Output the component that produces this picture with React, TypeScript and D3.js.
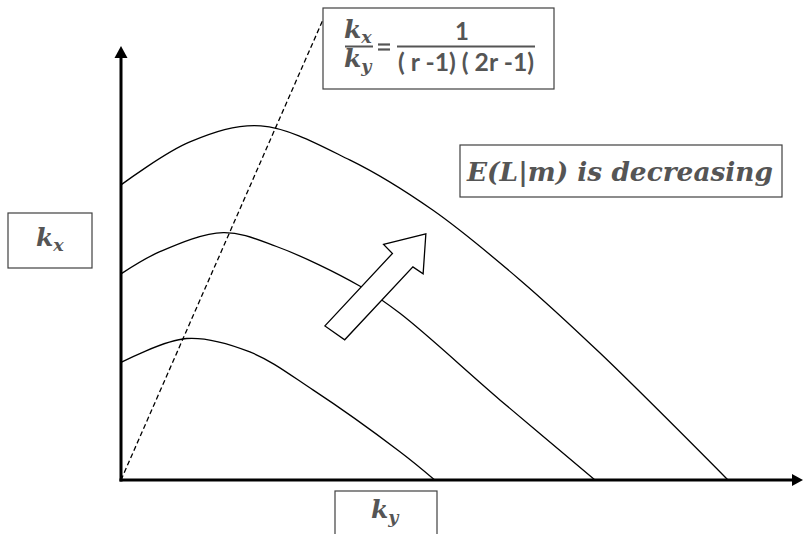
import React from 'react';
import * as d3 from 'd3';

// curve data, in chart units (x: k_y, y: k_x)
const topX = [0, 10.1, 20.5, 33.6, 45.7, 58.5, 70.2, 89.0];
const topY = [68.0, 77.9, 81.6, 73.7, 62.2, 46.1, 29.3, 0];

const midX = [0, 5.7, 15.0, 22.8, 35.0, 40.9, 55.6, 69.5];
const midY = [47.5, 52.6, 57.0, 53.8, 44.7, 38.4, 18.4, 0];

const lowX = [0, 9.6, 18.9, 28.2, 40.9, 46.0];
const lowY = [27.1, 32.6, 29.5, 20.7, 6.5, 0];

// dashed ray k_x/k_y = 1/((r-1)(2r-1))
const rayX = [0, 29.6];
const rayY = [0, 106.0];

// block arrow pointing toward higher curves
const arrowX = [29.9, 39.8, 38.5, 44.7, 44.3, 42.8, 32.8];
const arrowY = [35.5, 52.2, 54.3, 56.7, 47.5, 49.1, 32.3];

const W = 803;
const H = 534;
const textColor = '#555555';
const serif = '"DejaVu Serif", serif';
const sans = 'Lato, "Open Sans", sans-serif';

const x = d3.scaleLinear().domain([0, 100]).range([121, 803]);
const y = d3.scaleLinear().domain([0, 100]).range([480, 46]);

const zip = (xs: number[], ys: number[]) => xs.map((v, i) => [v, ys[i]] as [number, number]);

const curve = d3.line<[number, number]>()
    .x(d => x(d[0]))
    .y(d => y(d[1]))
    .curve(d3.curveCatmullRom.alpha(0.5));

const straight = d3.line<[number, number]>()
    .x(d => x(d[0]))
    .y(d => y(d[1]));

function Sub({base, sub, size}: {base: string, sub: string, size: number}) {
    return (
        <>
            <tspan>{base}</tspan>
            <tspan fontSize={size * 0.7} dy={size * 0.18}>{sub}</tspan>
        </>
    );
}

export default function App() {
    const ox = x(0), oy = y(0);
    const xEnd = x(100), yEnd = y(100);
    const arrowPts = zip(arrowX, arrowY).map(d => [x(d[0]), y(d[1])].join(',')).join(' ');
    const kStyle = {fontFamily: serif, fontStyle: 'italic', fontWeight: 'bold', fill: textColor} as const;

    return (
        <svg width={W} height={H} style={{position: 'fixed', left: 0, top: 0, background: '#fff'}}>
            <rect width={W} height={H} fill="#fff"/>

            {/* curves */}
            {[zip(topX, topY), zip(midX, midY), zip(lowX, lowY)].map((pts, i) => (
                <path key={i} d={curve(pts) || ''} fill="none" stroke="#000" strokeWidth={1.3}/>
            ))}

            {/* dashed ray from origin */}
            <path d={straight(zip(rayX, rayY)) || ''} fill="none" stroke="#000" strokeWidth={1.3} strokeDasharray="5,3"/>

            {/* axes */}
            <line x1={ox} y1={oy + 1.5} x2={ox} y2={yEnd + 10} stroke="#000" strokeWidth={3}/>
            <polygon points={`${ox},${yEnd} ${ox - 6.5},${yEnd + 12} ${ox + 6.5},${yEnd + 12}`} fill="#000"/>
            <line x1={ox - 1.5} y1={oy} x2={xEnd - 8} y2={oy} stroke="#000" strokeWidth={3}/>
            <polygon points={`${xEnd},${oy} ${xEnd - 11},${oy - 6} ${xEnd - 11},${oy + 6}`} fill="#000"/>

            {/* block arrow */}
            <polygon points={arrowPts} fill="#fff" stroke="#000" strokeWidth={1.3} strokeLinejoin="miter"/>

            {/* formula box */}
            <rect x={323} y={8} width={231} height={81} fill="#fff" stroke="#404040" strokeWidth={1.2}/>
            <text x={344} y={38} fontSize={25} {...kStyle}>
                <Sub base="k" sub="x" size={25}/>
            </text>
            <line x1={345} x2={373} y1={46.5} y2={46.5} stroke={textColor} strokeWidth={2}/>
            <text x={344} y={67} fontSize={25} {...kStyle}>
                <Sub base="k" sub="y" size={25}/>
            </text>
            <line x1={378} x2={390} y1={44.5} y2={44.5} stroke={textColor} strokeWidth={2.2}/>
            <line x1={378} x2={390} y1={49.5} y2={49.5} stroke={textColor} strokeWidth={2.2}/>
            <text x={462} y={40} textAnchor="middle" fontFamily={sans} fontWeight="bold" fontSize={24} fill={textColor}>1</text>
            <line x1={397} x2={535} y1={46.5} y2={46.5} stroke={textColor} strokeWidth={2}/>
            <text x={398} y={71} fontFamily={sans} fontWeight="bold" fontSize={25} fill={textColor}
                  textLength={136} lengthAdjust="spacingAndGlyphs" style={{whiteSpace: 'pre'}}>( r -1) ( 2r -1)</text>

            {/* statement box */}
            <rect x={460} y={145} width={322} height={52} fill="#fff" stroke="#404040" strokeWidth={1.2}/>
            <text x={467} y={181} fontSize={26} textLength={306} lengthAdjust="spacingAndGlyphs" {...kStyle}>
                E(L|m) is decreasing
            </text>

            {/* axis label boxes */}
            <rect x={8} y={213} width={84} height={55} fill="#fff" stroke="#404040" strokeWidth={1.2}/>
            <text x={36} y={246} fontSize={25} {...kStyle}>
                <Sub base="k" sub="x" size={25}/>
            </text>
            <rect x={335} y={491} width={102} height={60} fill="#fff" stroke="#404040" strokeWidth={1.2}/>
            <text x={371} y={518} fontSize={25} {...kStyle}>
                <Sub base="k" sub="y" size={25}/>
            </text>
        </svg>
    );
}
